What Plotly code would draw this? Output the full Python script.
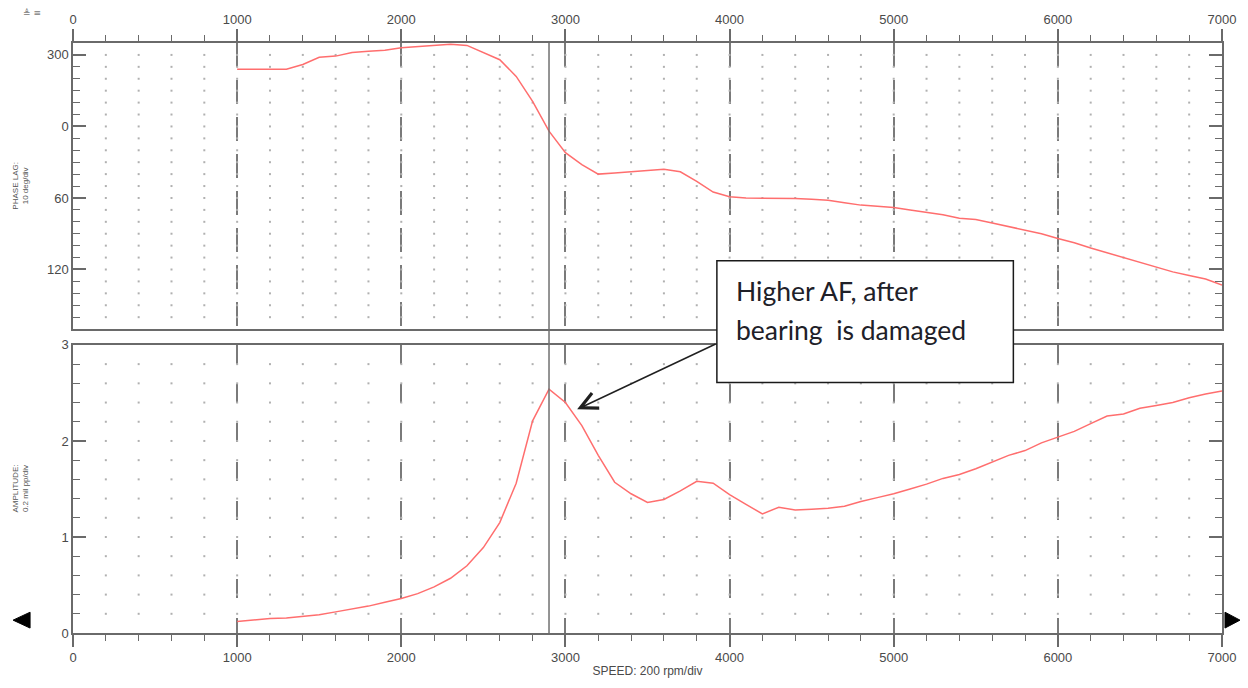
import numpy as np
import plotly.graph_objects as go

# Run-up data: shaft speed (rpm), phase lag reading (deg, 0-360) and amplitude (mil pp)
speed_rpm = list(range(1000, 7001, 100))

phase_lag_deg = [
    312, 312, 312, 312, 308, 302, 301, 298, 297, 296,
    294, 293, 292.5, 291, 292, 298, 304, 318, 339, 4,
    22, 32, 40, 39, 38, 37.5, 36, 38, 46, 55,
    59, 60, 60, 60, 60.5, 61, 62, 64, 66, 67,
    68, 70, 72, 74, 77, 78, 81, 84, 87, 90,
    94, 97.5, 102, 106, 110, 114, 117.5, 122, 125, 128,
    133,
]

amplitude_mil = [
    0.12, 0.135, 0.15, 0.155, 0.175, 0.19, 0.22, 0.25, 0.28, 0.32,
    0.36, 0.41, 0.48, 0.57, 0.70, 0.89, 1.15, 1.56, 2.21, 2.54,
    2.40, 2.16, 1.85, 1.57, 1.45, 1.36, 1.39, 1.48, 1.58, 1.56,
    1.44, 1.34, 1.24, 1.31, 1.28, 1.29, 1.30, 1.32, 1.37, 1.41,
    1.45, 1.50, 1.55, 1.61, 1.65, 1.71, 1.78, 1.85, 1.90, 1.98,
    2.04, 2.10, 2.18, 2.26, 2.28, 2.34, 2.37, 2.40, 2.45, 2.49,
    2.52,
]

phase_ticks = [-60, 0, 60, 120]
phase_tick_labels = ["300", "0", "60", "120"]
amp_ticks = [0, 1, 2, 3]
speed_ticks = list(range(0, 7001, 1000))
marker_speed = 2900  # speed cursor

# unwrap phase readings so the curve is continuous across 360 -> 0
phase_plot = [p - 360 if p > 180 else p for p in phase_lag_deg]

W, H = 1248, 688
ML, MR, MT, MB = 73, 24, 42, 50
PW, PH = W - ML - MR, H - MT - MB


def px_x(px):
    return (px - ML) / PW


def px_y(py):
    return (H - MB - py) / PH


def px_path(points):
    """SVG path in paper units from a list of pixel points."""
    parts = [f"{px_x(x):.5f},{px_y(y):.5f}" for x, y in points]
    return "M" + " L".join(parts) + " Z"


top_dom = [px_y(331), 1.0]
bot_dom = [0.0, px_y(347)]

AX = "#6a6a6a"
TXT = "#4a4a4a"
CURVE = "#ff6e6e"
TICKFONT = dict(family="Liberation Sans, Arial, sans-serif", size=13, color=TXT)

fig = go.Figure()

# dotted background grid (200 rpm x 10 deg / 0.2 mil)
gx = np.arange(200, 7000, 200)
gy_top = np.arange(-60, 170, 10)
gy_bot = np.round(np.arange(0.2, 3.0, 0.2), 2)
for gy, xa, ya in [(gy_top, "x", "y"), (gy_bot, "x2", "y2")]:
    XX, YY = np.meshgrid(gx, gy)
    fig.add_trace(go.Scatter(
        x=XX.ravel(), y=YY.ravel(), mode="markers", xaxis=xa, yaxis=ya,
        marker=dict(size=2, color="#b0b0b0", symbol="square", line=dict(width=0)),
        hoverinfo="skip", showlegend=False,
    ))

fig.add_trace(go.Scatter(
    x=speed_rpm, y=phase_plot, mode="lines", xaxis="x", yaxis="y",
    line=dict(color=CURVE, width=1.5), showlegend=False,
))
fig.add_trace(go.Scatter(
    x=speed_rpm, y=amplitude_mil, mode="lines", xaxis="x2", yaxis="y2",
    line=dict(color=CURVE, width=1.5), showlegend=False,
))

xcommon = dict(
    range=[0, 7000], tickvals=speed_ticks, ticks="outside", ticklen=12,
    tickwidth=1.5, tickcolor=AX, showline=True, linecolor=AX, linewidth=1.5,
    mirror=True, showgrid=True, gridcolor="#7a7a7a", gridwidth=2,
    zeroline=False, tickfont=TICKFONT,
    minor=dict(tick0=0, dtick=200, ticks="outside", ticklen=6, tickwidth=1,
               tickcolor=AX, showgrid=False),
)
ycommon = dict(
    ticks="inside", ticklen=13, tickwidth=1.5, tickcolor=AX, showline=True,
    linecolor=AX, linewidth=1.5, mirror="ticks", showgrid=False,
    zeroline=False, tickfont=TICKFONT,
)

fig.update_layout(
    width=W, height=H, margin=dict(l=ML, r=MR, t=MT, b=MB),
    paper_bgcolor="white", plot_bgcolor="white", showlegend=False,
    xaxis=dict(xcommon, domain=[0, 1], anchor="y", side="top",
               griddash="24px,13px"),
    yaxis=dict(ycommon, domain=top_dom, anchor="x", range=[170, -70],
               tickvals=phase_ticks, ticktext=phase_tick_labels,
               minor=dict(tick0=0, dtick=10, ticks="inside", ticklen=7,
                          tickwidth=1, tickcolor=AX, showgrid=False)),
    xaxis2=dict(xcommon, domain=[0, 1], anchor="y2", side="bottom",
                griddash="19px,20px",
                title=dict(text="SPEED: 200 rpm/div", standoff=2,
                           font=dict(family="Liberation Sans, Arial, sans-serif",
                                     size=12, color=TXT))),
    yaxis2=dict(ycommon, domain=bot_dom, anchor="x2", range=[0, 3],
                tickvals=amp_ticks,
                minor=dict(tick0=0, dtick=0.2, ticks="inside", ticklen=7,
                           tickwidth=1, tickcolor=AX, showgrid=False)),
)

# speed cursor through both panels
fig.add_shape(type="line", xref="x", yref="paper", x0=marker_speed, x1=marker_speed,
              y0=0, y1=1, line=dict(color="#707070", width=1.5), layer="above")

# callout box
fig.add_shape(type="rect", xref="paper", yref="paper",
              x0=px_x(718), x1=px_x(1015), y0=px_y(385), y1=px_y(262),
              fillcolor="white", line=dict(color="#1a1a1a", width=1.5), layer="above")

box_font = dict(family="Lato, Open Sans, sans-serif", size=26.5, color="#202028")
for text, py in [("Higher AF, after", 293), ("bearing  is damaged", 332)]:
    fig.add_annotation(xref="paper", yref="paper", x=px_x(735), y=px_y(py),
                       xanchor="left", yanchor="middle", text=text,
                       showarrow=False, font=box_font)

# arrow from the callout to the amplitude peak region
fig.add_annotation(xref="paper", yref="paper", x=px_x(578), y=px_y(412),
                   ax=718 - 578, ay=346 - 412, axref="pixel", ayref="pixel",
                   text="", showarrow=True, arrowhead=5, arrowsize=2.2,
                   arrowwidth=1.5, arrowcolor="#202020")

# axis titles
title_font = dict(family="Liberation Sans, Arial, sans-serif", size=8, color="#555555")
fig.add_annotation(xref="paper", yref="paper", x=px_x(20), y=px_y(186),
                   text="PHASE LAG:<br>10 deg/div", textangle=-90,
                   showarrow=False, font=title_font, xanchor="center", yanchor="middle")
fig.add_annotation(xref="paper", yref="paper", x=px_x(20), y=px_y(492),
                   text="AMPLITUDE:<br>0.2 mil pp/div", textangle=-90,
                   showarrow=False, font=title_font, xanchor="center", yanchor="middle")

# cursor arrows (filled triangles) at both ends of the speed axis
for pts in ([(13, 625), (30, 617), (30, 633)],
            [(1242, 625), (1227, 617), (1227, 633)]):
    fig.add_shape(type="path", xref="paper", yref="paper", path=px_path(pts),
                  fillcolor="black", line=dict(color="black", width=1), layer="above")

# toolbar glyphs
fig.add_annotation(xref="paper", yref="paper", x=px_x(21), y=px_y(5),
                   text="≜ ≡", showarrow=False,
                   font=dict(family="DejaVu Sans", size=9, color="#777777"))

fig.write_html("out.html")
